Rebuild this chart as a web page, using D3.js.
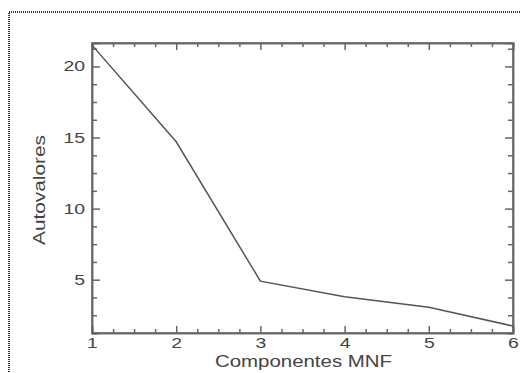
<!DOCTYPE html>
<html>
<head>
<meta charset="utf-8">
<script src="https://cdn.jsdelivr.net/npm/d3@7"></script>
<style>
  body { margin: 0; background: #fff; }
  svg { display: block; font-family: "Liberation Sans", Arial, sans-serif; }
  .axis path, .axis line { stroke: #666; stroke-width: 1.5; }
  .axis text { fill: #444; font-size: 14px; }
</style>
</head>
<body>
<svg id="chart" width="520" height="373"></svg>
<script>
// data
const components = [1, 2, 3, 4, 5, 6];
const eigenvalues = [21.5, 14.7, 4.9, 3.8, 3.06, 1.74];
const xTicks = [1, 2, 3, 4, 5, 6];
const yTicks = [5, 10, 15, 20];
const xLabel = 'Componentes  MNF';
const yLabel = 'Autovalores';

const margin = {top: 43, right: 7, bottom: 40, left: 92};
const width = 520 - margin.left - margin.right;
const height = 373 - margin.top - margin.bottom;

const svg = d3.select('#chart');

// dotted frame round the figure
svg.append('rect')
    .attr('x', 9).attr('y', 12)
    .attr('width', 530).attr('height', 380)
    .attr('fill', 'none')
    .attr('stroke', '#333')
    .attr('stroke-width', 2)
    .attr('stroke-dasharray', '1,1');

const g = svg.append('g')
    .attr('transform', `translate(${margin.left},${margin.top})`);

const x = d3.scaleLinear().domain([1, 6]).range([0, width]);
const y = d3.scaleLinear().domain([1.25, 21.65]).range([height, 0]);

const xMinor = d3.range(1, 6.001, 0.25).filter(v => !xTicks.includes(v));
const yMinor = d3.range(1.25, 21.7, 1.25).filter(v => !yTicks.includes(v));

// minor ticks on all four sides
g.append('g').attr('class', 'axis')
    .attr('transform', `translate(0,${height})`)
    .call(d3.axisBottom(x).tickValues(xMinor).tickSize(-4).tickFormat(''));
g.append('g').attr('class', 'axis')
    .call(d3.axisTop(x).tickValues(xMinor).tickSize(-4).tickFormat(''));
g.append('g').attr('class', 'axis')
    .call(d3.axisLeft(y).tickValues(yMinor).tickSize(-5).tickFormat(''));
g.append('g').attr('class', 'axis')
    .attr('transform', `translate(${width},0)`)
    .call(d3.axisRight(y).tickValues(yMinor).tickSize(-5).tickFormat(''));

// major ticks + labels
g.append('g').attr('class', 'axis')
    .attr('transform', `translate(0,${height})`)
    .call(d3.axisBottom(x).tickValues(xTicks).tickSize(-7).tickPadding(5).tickFormat(d3.format('d')));
g.append('g').attr('class', 'axis')
    .call(d3.axisTop(x).tickValues(xTicks).tickSize(-7).tickFormat(''));
g.append('g').attr('class', 'axis')
    .call(d3.axisLeft(y).tickValues(yTicks).tickSize(-8).tickPadding(7).tickFormat(d3.format('d')));
g.append('g').attr('class', 'axis')
    .attr('transform', `translate(${width},0)`)
    .call(d3.axisRight(y).tickValues(yTicks).tickSize(-8).tickFormat(''));

// the labels in the picture are drawn wide
g.selectAll('.axis text')
    .attr('textLength', function() { return 10.8 * this.textContent.length; })
    .attr('lengthAdjust', 'spacingAndGlyphs');

// plot frame
g.append('rect')
    .attr('width', width).attr('height', height)
    .attr('fill', 'none')
    .attr('stroke', '#666')
    .attr('stroke-width', 1.5);

const line = d3.line()
    .x((d, i) => x(components[i]))
    .y(d => y(d));

g.append('path')
    .datum(eigenvalues)
    .attr('fill', 'none')
    .attr('stroke', '#555')
    .attr('stroke-width', 1.5)
    .attr('d', line);

// axis titles
svg.append('text')
    .attr('x', 303.5).attr('y', 367)
    .attr('text-anchor', 'middle')
    .attr('font-size', 16)
    .attr('fill', '#444')
    .attr('textLength', 177)
    .attr('lengthAdjust', 'spacingAndGlyphs')
    .text(xLabel);

svg.append('text')
    .attr('transform', 'translate(45,190) rotate(-90)')
    .attr('text-anchor', 'middle')
    .attr('font-size', 16)
    .attr('fill', '#444')
    .attr('textLength', 110)
    .attr('lengthAdjust', 'spacingAndGlyphs')
    .text(yLabel);
</script>
</body>
</html>
